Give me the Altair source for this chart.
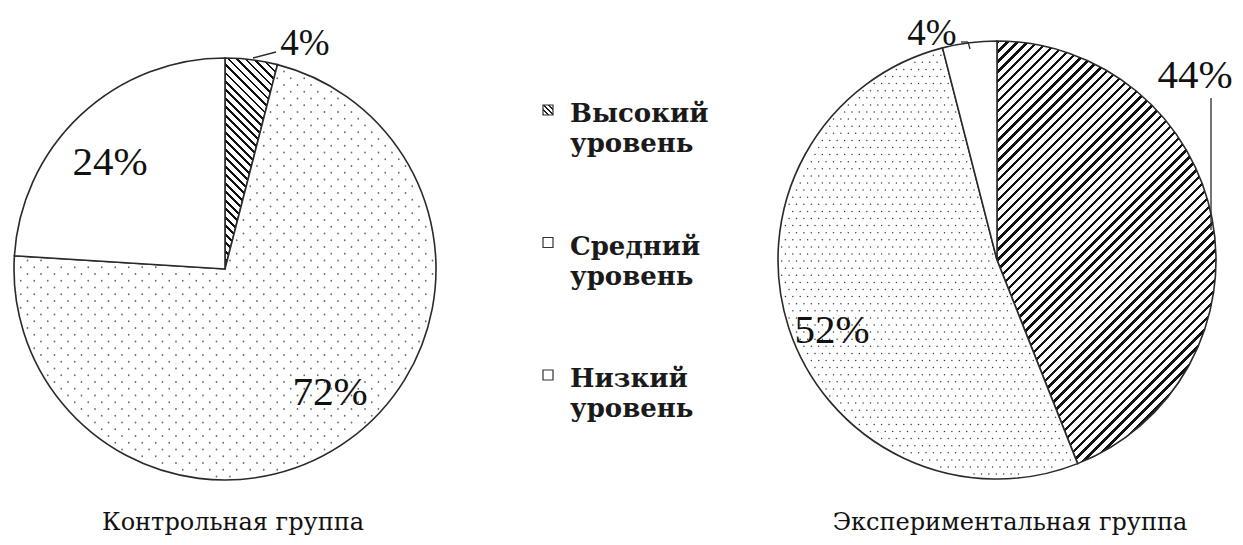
import math
import altair as alt
import pandas as pd

# ---------------- data ----------------
LEVELS = ["Высокий уровень", "Средний уровень", "Низкий уровень"]
GROUPS = ["Контрольная группа", "Экспериментальная группа"]
CONTROL = [4, 72, 24]
EXPERIMENT = [44, 52, 4]

# ---------------- layout / style ----------------
W, H = 1227, 529
PIES = {
    GROUPS[0]: dict(cx=217, cy=261, r=211, hatch="\\", period=6.0, bw=2.0,
                    dots=dict(sx=13.5, sy=6.75, st=6.75, size=3.2, color="#6a6a6a")),
    GROUPS[1]: dict(cx=989, cy=252, r=219, hatch="/", period=7.0, bw=2.4,
                    dots=dict(sx=7.4, sy=7.1, st=3.7, size=2.2, color="#3a3a3a")),
}
STROKE = "#2a2a2a"
PCT_FONT = "Liberation Serif"
TXT_FONT = "DejaVu Serif"


def hatch_gradient(w, h, direction, period, bw, dark="#111111", light="#ffffff"):
    lam = (w + h) / (w * w + h * h)
    if direction == "/":
        x1, y1, x2, y2 = 0, 0, lam * w, lam * h
    else:
        x1, y1, x2, y2 = 0, 1, lam * w, 1 - lam * h
    span = (w + h) / math.sqrt(2)
    dt, bt = period / span, bw / span
    stops, s = [], 0.0
    while s < 1:
        a = round(min(s + bt, 1), 5)
        b = round(min(s + dt, 1), 5)
        stops += [(round(s, 5), dark), (a, dark), (a, light), (b, light)]
        s += dt
    return {"gradient": "linear", "x1": x1, "y1": y1, "x2": x2, "y2": y2,
            "stops": [{"offset": o, "color": c} for o, c in stops]}


def sector_bbox(a0, a1, r):
    angs = [a0, a1] + [k * 90 for k in range(5) if a0 < k * 90 < a1]
    pts = [(0.0, 0.0)] + [(r * math.sin(math.radians(a)), -r * math.cos(math.radians(a))) for a in angs]
    xs, ys = [p[0] for p in pts], [p[1] for p in pts]
    return max(xs) - min(xs), max(ys) - min(ys)


rows = []
for g, vals in zip(GROUPS, [CONTROL, EXPERIMENT]):
    for i, (lv, v) in enumerate(zip(LEVELS, vals)):
        rows.append({"group": g, "level": lv, "idx": i, "value": v})
df = pd.DataFrame(rows)

layers = []
for g, vals in zip(GROUPS, [CONTROL, EXPERIMENT]):
    p = PIES[g]
    tot = sum(vals)
    cum = [sum(vals[:k]) * 360 / tot for k in range(len(vals) + 1)]
    bw_, bh_ = sector_bbox(cum[0], cum[1], p["r"])
    grad = hatch_gradient(bw_, bh_, p["hatch"], p["period"], p["bw"])
    arc = alt.Chart(df).transform_filter(alt.datum.group == g).mark_arc(
        radius=p["r"], stroke=STROKE, strokeWidth=1.6
    ).encode(
        x=alt.value(p["cx"]), y=alt.value(p["cy"]),
        theta=alt.Theta("value:Q", stack=True),
        order=alt.Order("idx:Q"),
        fill=alt.condition(alt.datum.level == LEVELS[0], alt.value(grad), alt.value("white")),
    )
    layers.append(arc)

    # dotted texture for the middle slice
    d = p["dots"]
    cx, cy, r = p["cx"], p["cy"], p["r"]
    a0, a1 = cum[1], cum[2]
    nc = int(math.ceil(2 * r / d["sx"])) + 2
    nr = int(math.ceil(2 * r / d["sy"])) + 2
    x0, y0 = cx - r, cy - r
    dots = alt.Chart(alt.sequence(0, nc * nr, as_="i")).transform_calculate(
        px=f"{x0} + (datum.i % {nc}) * {d['sx']} + (floor(datum.i / {nc}) % 2) * {d['st']}",
        py=f"{y0} + floor(datum.i / {nc}) * {d['sy']}",
    ).transform_calculate(
        dist=f"sqrt(pow(datum.px - {cx}, 2) + pow(datum.py - {cy}, 2))",
        ang=f"(atan2(datum.px - {cx}, {cy} - datum.py) * 180 / PI + 360) % 360",
    ).transform_filter(
        f"datum.dist < {r - 3} && datum.ang > {a0} && datum.ang < {a1}"
        f" && (datum.ang - {a0} > 90 || datum.dist * sin((datum.ang - {a0}) * PI / 180) > 2.5)"
        f" && ({a1} - datum.ang > 90 || datum.dist * sin(({a1} - datum.ang) * PI / 180) > 2.5)"
    ).mark_circle(size=d["size"], color=d["color"], opacity=1).encode(
        x=alt.X("px:Q", scale=None, axis=None),
        y=alt.Y("py:Q", scale=None, axis=None),
    )
    layers.append(dots)

# ---------------- percentage labels ----------------
LABEL_POS = {  # (group, idx): (x, y-baseline, fontsize)
    (GROUPS[0], 0): (297, 47, 37),
    (GROUPS[0], 1): (322, 397, 41),
    (GROUPS[0], 2): (102, 167, 41),
    (GROUPS[1], 0): (1187, 80, 41),
    (GROUPS[1], 1): (824, 335, 41),
    (GROUPS[1], 2): (924, 37, 37),
}
lab = df.copy()
lab["txt"] = lab["value"].astype(str) + "%"
lab["lx"] = [LABEL_POS[(g, i)][0] for g, i in zip(lab.group, lab.idx)]
lab["ly"] = [LABEL_POS[(g, i)][1] for g, i in zip(lab.group, lab.idx)]
lab["fs"] = [LABEL_POS[(g, i)][2] for g, i in zip(lab.group, lab.idx)]
labels = alt.Chart(lab).mark_text(font=PCT_FONT, align="center", baseline="alphabetic", color="#111").encode(
    x=alt.X("lx:Q", scale=None, axis=None),
    y=alt.Y("ly:Q", scale=None, axis=None),
    text="txt:N",
    size=alt.Size("fs:Q", scale=None, legend=None),
)
layers.append(labels)

# leader lines
def seg(x1, y1, x2, y2):
    return alt.Chart(df.head(1)).mark_rule(color=STROKE, strokeWidth=1.3).encode(
        x=alt.value(x1), y=alt.value(y1), x2=alt.value(x2), y2=alt.value(y2))

layers += [
    seg(245, 50, 268, 44),
    seg(953, 34, 960, 34),
    seg(960, 34, 962, 41),
    seg(1203, 90, 1203, 222),
]

# ---------------- legend ----------------
leg = pd.DataFrame({"level": LEVELS, "idx": range(len(LEVELS))})
icon_grad = hatch_gradient(10, 10, "\\", 3.4, 1.4, dark="#222222")
legend_icons = alt.Chart(leg).transform_calculate(
    ly="102 + datum.idx * 132.5"
).mark_square(size=100, stroke="#333", strokeWidth=1.2, opacity=1).encode(
    x=alt.value(540),
    y=alt.Y("ly:Q", scale=None, axis=None),
    fill=alt.condition(alt.datum.idx == 0, alt.value(icon_grad), alt.value("white")),
)
legend_text = alt.Chart(leg).transform_calculate(
    ly="114 + datum.idx * 132.5"
).mark_text(font=TXT_FONT, fontSize=26, fontWeight="bold", align="left", baseline="alphabetic",
            lineBreak=" ", lineHeight=30, color="#1a1a1a").encode(
    x=alt.value(562),
    y=alt.Y("ly:Q", scale=None, axis=None),
    text="level:N",
)
layers += [legend_icons, legend_text]

# ---------------- captions ----------------
cap = pd.DataFrame({"group": GROUPS, "cx": [225, 1002]})
captions = alt.Chart(cap).mark_text(font=TXT_FONT, fontSize=24, align="center",
                                    baseline="alphabetic", color="#111").encode(
    x=alt.X("cx:Q", scale=None, axis=None),
    y=alt.value(522),
    text="group:N",
)
layers.append(captions)

chart = alt.layer(*layers).resolve_scale(theta="independent").properties(
    width=W, height=H, autosize="none", padding=0
).configure_view(stroke=None)

chart.save("out.html", embed_options={"renderer": "svg", "actions": False})
